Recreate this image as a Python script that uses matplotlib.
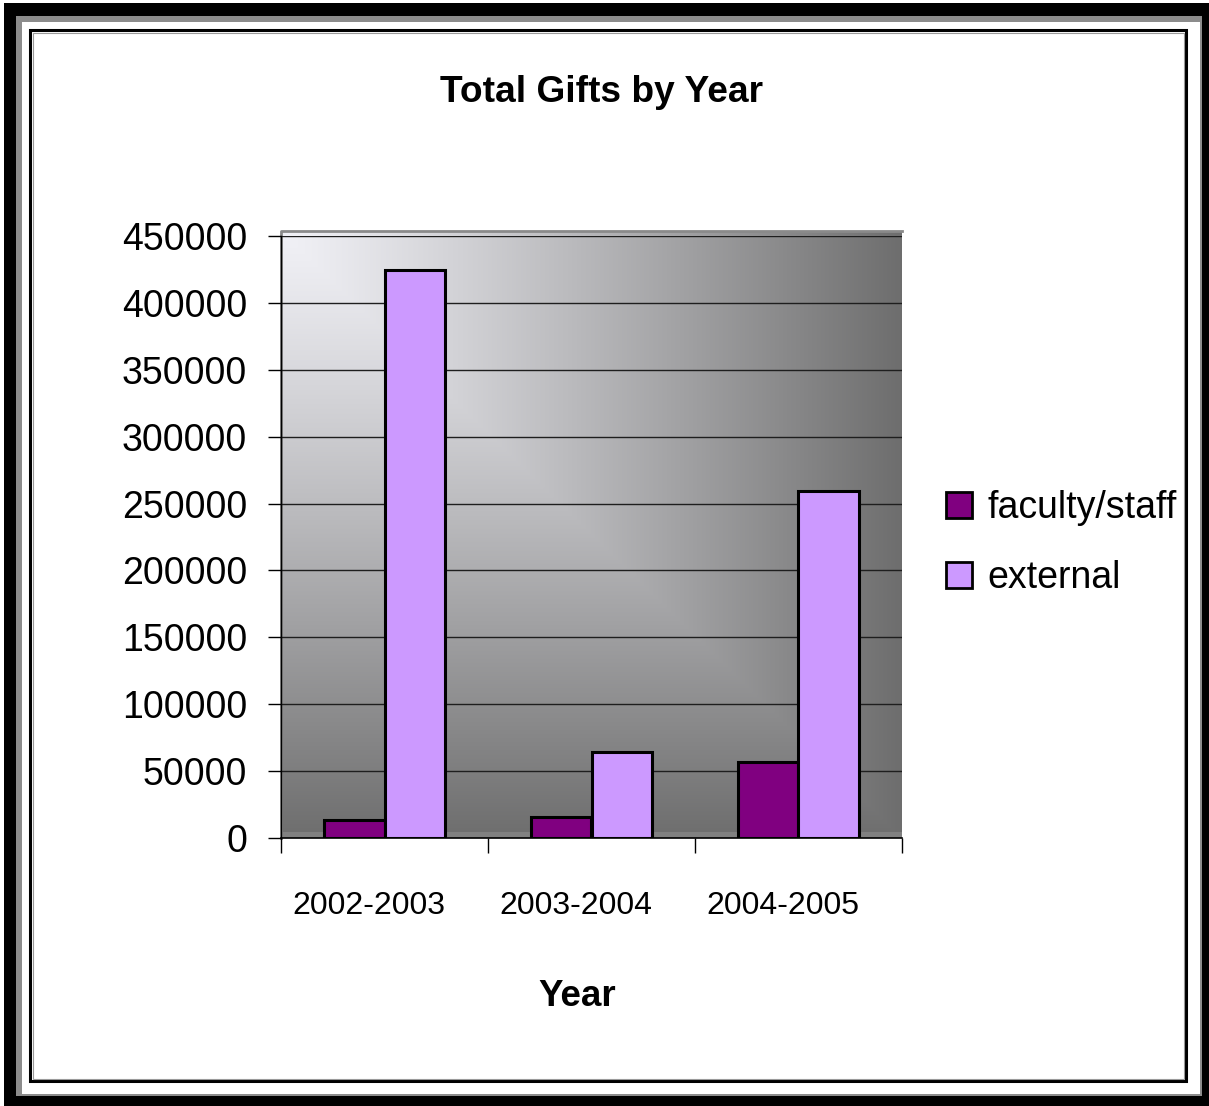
import numpy as np
import matplotlib
matplotlib.use("Agg")
import matplotlib.pyplot as plt
from matplotlib.patches import Rectangle, Patch
from matplotlib.transforms import ScaledTranslation

plt.rcParams['font.family'] = ['Liberation Sans', 'DejaVu Sans']

# ---- data ----
categories = ["2002-2003", "2003-2004", "2004-2005"]
faculty_staff = [13500, 16000, 57000]
external = [424500, 64000, 259500]
series_names = ["faculty/staff", "external"]
yticks = [0, 50000, 100000, 150000, 200000, 250000, 300000, 350000, 400000, 450000]

W, H = 1209, 1106
DPI = 100
fig = plt.figure(figsize=(W / DPI, H / DPI), dpi=DPI)
fig.patch.set_facecolor("white")

# ---- frame overlay (pixel coords) ----
bg = fig.add_axes([0, 0, 1, 1], zorder=-5)
bg.set_xlim(0, W)
bg.set_ylim(H, 0)
bg.axis("off")
bg.add_patch(Rectangle((4, 3), 12, H - 3, color="black", lw=0))
bg.add_patch(Rectangle((4, 3), W - 4, 13, color="black", lw=0))
bg.add_patch(Rectangle((1202, 3), 7, H - 3, color="black", lw=0))
bg.add_patch(Rectangle((4, 1096), W - 4, 10, color="black", lw=0))
bg.add_patch(Rectangle((16, 16), 6, 1080, color="#8c8c8c", lw=0))
bg.add_patch(Rectangle((16, 16), 1186, 6, color="#8c8c8c", lw=0))
bg.add_patch(Rectangle((1200, 16), 2, 1080, color="#8c8c8c", lw=0))
bg.add_patch(Rectangle((16, 1094), 1186, 2, color="#8c8c8c", lw=0))
bg.add_patch(Rectangle((30, 30), 1156, 1051, fill=False, ec="black", lw=2.2))
bg.add_patch(Rectangle((32.5, 32.5), 1151, 1046, fill=False, ec="#9a9a9a", lw=0.8))

# ---- main axes ----
left, right, top, bottom = 281, 902, 236, 838
ax = fig.add_axes([left / W, (H - bottom) / H, (right - left) / W, (bottom - top) / H], zorder=1)
ax.set_facecolor("none")

ymax = 450000
xlo, xhi = -0.5, 2.5
wall_top = ymax * (bottom - 231) / (bottom - top)

# gradient wall ("from corner")
n = 300
u = np.linspace(0, 1, n)[None, :]
v = np.linspace(0, 1, n)[:, None]
t = np.maximum(u, v) ** 1.15
light = np.array([0.945, 0.945, 0.965])
dark = np.array([0.43, 0.43, 0.43])
img = light[None, None, :] + (dark - light)[None, None, :] * t[:, :, None]
ax.imshow(img, extent=[xlo, xhi, 0, wall_top], origin="upper", aspect="auto",
          zorder=0, clip_on=False, interpolation="bilinear")
ax.axhspan(0, ymax * 6 / 602, color="#8e8e8e", alpha=0.6, zorder=0.5, lw=0)
ax.plot([xlo, xlo, xhi], [0, wall_top, wall_top], color="#8a8a8a", lw=2.0,
        clip_on=False, zorder=0.6)

ax.set_xlim(xlo, xhi)
ax.set_ylim(0, ymax)

for yv in yticks[1:]:
    ax.axhline(yv, color="#1e1e1e", lw=1.0, zorder=1)

x = np.arange(len(categories))
bw = 0.29
ax.bar(x - bw / 2, faculty_staff, bw, color="#800080", edgecolor="black", lw=2.2,
       zorder=3, label=series_names[0])
ax.bar(x + bw / 2, external, bw, color="#CC99FF", edgecolor="black", lw=2.2,
       zorder=3, label=series_names[1])

for s in ["top", "right"]:
    ax.spines[s].set_visible(False)
ax.spines["left"].set_color("black")
ax.spines["left"].set_linewidth(1.0)
ax.spines["bottom"].set_color("black")
ax.spines["bottom"].set_linewidth(1.2)
ax.spines["left"].set_zorder(4)
ax.spines["bottom"].set_zorder(4)

ax.set_yticks(yticks)
ax.set_yticklabels([str(v) for v in yticks])
ax.tick_params(axis="y", length=9.5, width=1.0, color="black", pad=15,
               labelsize=27, direction="out")

ax.set_xticks(x)
ax.set_xticklabels(categories)
ax.set_xticks([-0.5, 0.5, 1.5, 2.5], minor=True)
ax.tick_params(axis="x", which="major", length=0, pad=38, labelsize=23)
ax.tick_params(axis="x", which="minor", length=11, width=1.0, color="black", direction="out")
off = ScaledTranslation(-16 / DPI, 0, fig.dpi_scale_trans)
for lab in ax.get_xticklabels():
    lab.set_transform(lab.get_transform() + off)

handles = [Patch(facecolor="#800080", edgecolor="black", lw=2.0),
           Patch(facecolor="#CC99FF", edgecolor="black", lw=2.0)]
fig.legend(handles, series_names, loc="upper left",
           bbox_to_anchor=(946 / W, 1 - 490 / H), bbox_transform=fig.transFigure,
           frameon=False, fontsize=27, handlelength=0.7, handleheight=0.7,
           handletextpad=0.4, labelspacing=0.92, borderpad=0.0, borderaxespad=0.0)

fig.text(602 / W, 1 - 92 / H, "Total Gifts by Year", ha="center", va="center",
         fontsize=26.7, fontweight="bold")
fig.text(577 / W, 1 - 997 / H, "Year", ha="center", va="center",
         fontsize=26.5, fontweight="bold")

fig.savefig("out.png", dpi=DPI)
